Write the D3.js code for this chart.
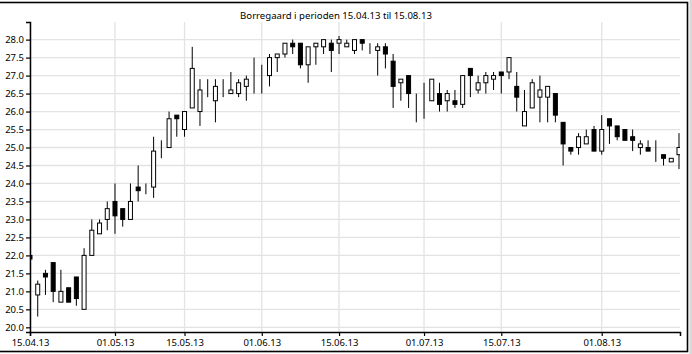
<!DOCTYPE html>
<html>
<head>
<meta charset="utf-8">
<script src="https://cdn.jsdelivr.net/npm/d3@7"></script>
<style>
  html, body { margin: 0; padding: 0; background: #fff; }
  svg { display: block; font-family: "Noto Sans", "Open Sans", sans-serif; }
</style>
</head>
<body>
<svg id="chart" width="692" height="354"></svg>
<script>
// ---- Data (Oslo Børs trading days, 15.04.13 – 15.08.13) ----
const dates = [
  "2013-04-15","2013-04-16","2013-04-17","2013-04-18","2013-04-19","2013-04-22","2013-04-23","2013-04-24","2013-04-25","2013-04-26",
  "2013-04-29","2013-04-30","2013-05-02","2013-05-03","2013-05-06","2013-05-07","2013-05-08","2013-05-10","2013-05-13","2013-05-14",
  "2013-05-15","2013-05-16","2013-05-21","2013-05-22","2013-05-23","2013-05-24","2013-05-27","2013-05-28","2013-05-29","2013-05-30",
  "2013-05-31","2013-06-03","2013-06-04","2013-06-05","2013-06-06","2013-06-07","2013-06-10","2013-06-11","2013-06-12","2013-06-13",
  "2013-06-14","2013-06-17","2013-06-18","2013-06-19","2013-06-20","2013-06-21","2013-06-24","2013-06-25","2013-06-26","2013-06-27",
  "2013-06-28","2013-07-01","2013-07-02","2013-07-03","2013-07-04","2013-07-05","2013-07-08","2013-07-09","2013-07-10","2013-07-11",
  "2013-07-12","2013-07-15","2013-07-16","2013-07-17","2013-07-18","2013-07-19","2013-07-22","2013-07-23","2013-07-24","2013-07-25",
  "2013-07-26","2013-07-29","2013-07-30","2013-07-31","2013-08-01","2013-08-02","2013-08-05","2013-08-06","2013-08-07","2013-08-08",
  "2013-08-09","2013-08-12","2013-08-13","2013-08-14","2013-08-15"
];
const open = [
  22.0,20.9,21.5,21.8,20.7,21.1,21.4,20.5,22.0,22.6,
  23.0,23.5,23.3,23.0,23.9,23.9,23.9,25.0,25.0,25.9,
  25.5,26.1,26.0,26.5,26.3,26.9,26.5,26.5,26.7,27.0,
  26.9,27.0,27.5,27.6,27.9,27.9,27.3,27.8,27.8,27.9,
  27.9,27.8,27.7,28.0,27.9,27.7,27.8,27.4,26.8,27.0,
  26.5,26.8,26.3,26.5,26.3,26.3,26.2,27.2,26.6,26.8,
  26.9,27.1,27.1,26.7,25.6,26.1,26.4,26.4,26.5,25.7,
  25.0,25.0,25.1,25.5,24.9,25.8,25.6,25.5,25.3,25.0,
  25.0,24.8,24.8,24.6,24.8
];
const high = [
  22.0,21.3,21.6,21.8,21.6,21.1,21.4,22.2,23.0,23.0,
  23.5,24.0,23.3,24.0,24.5,24.0,25.3,25.2,26.0,25.9,
  26.0,27.8,26.9,26.9,26.9,26.9,27.1,26.9,27.0,27.5,
  27.3,27.6,27.6,27.9,28.0,27.9,27.8,27.9,28.0,28.0,
  28.1,28.0,28.0,28.0,27.9,27.9,27.9,27.6,26.9,27.0,
  26.5,26.8,26.9,26.8,26.6,26.6,27.0,27.2,27.0,27.1,
  27.1,27.1,27.5,27.1,26.6,26.9,27.0,26.7,26.5,25.7,
  25.0,25.4,25.5,25.6,25.9,25.8,25.6,25.5,25.5,25.2,
  25.2,25.2,24.8,24.7,25.4
];
const low = [
  21.9,20.3,20.9,20.7,20.7,20.7,20.6,20.5,22.0,22.6,
  22.7,22.6,22.8,23.0,23.5,23.7,23.6,24.7,25.0,25.3,
  25.3,26.1,25.6,26.4,25.7,26.4,26.5,26.4,26.3,26.5,
  26.5,26.7,27.1,27.5,27.6,27.2,26.8,27.3,27.6,27.1,
  27.6,27.8,27.6,27.7,27.6,27.0,27.2,26.1,26.3,26.1,
  25.7,25.8,26.3,26.0,26.0,26.1,26.1,26.4,26.5,26.5,
  26.6,26.5,26.9,26.0,25.6,26.1,25.7,25.7,25.7,24.5,
  24.8,24.8,25.1,24.9,24.8,25.1,25.2,25.2,24.9,24.8,
  24.9,24.6,24.5,24.6,24.4
];
const close = [
  21.9,21.2,21.4,21.0,21.0,20.7,20.8,22.0,22.7,22.9,
  23.3,23.1,23.0,23.5,23.8,23.9,24.9,25.0,25.8,25.8,
  26.0,27.2,26.6,26.5,26.7,26.9,26.6,26.8,26.9,27.0,
  26.9,27.5,27.6,27.9,27.8,27.3,27.8,27.9,28.0,27.7,
  28.0,27.9,28.0,27.9,27.9,27.8,27.6,26.7,26.9,26.5,
  26.5,26.8,26.9,26.2,26.5,26.2,27.0,27.0,26.8,27.0,
  27.0,27.0,27.5,26.4,26.0,26.8,26.6,26.7,25.9,25.1,
  24.9,25.3,25.3,24.9,25.5,25.6,25.3,25.2,25.2,25.1,
  24.9,24.8,24.7,24.7,25.0
];
const xTickDates = ["2013-04-15","2013-05-01","2013-05-15","2013-06-01","2013-06-15","2013-07-01","2013-07-15","2013-08-01"];
const xTickLabels = ["15.04.13","01.05.13","15.05.13","01.06.13","15.06.13","01.07.13","15.07.13","01.08.13"];
const yTicks = [20.0,20.5,21.0,21.5,22.0,22.5,23.0,23.5,24.0,24.5,25.0,25.5,26.0,26.5,27.0,27.5,28.0];
const title = "Borregaard i perioden 15.04.13 til 15.08.13";

// ---- Layout ----
const W = 692, H = 354;
const plot = { left: 30, right: 680, top: 22, bottom: 332 };

const svg = d3.select("#chart");
svg.append("rect").attr("width", W).attr("height", H).attr("fill", "#fff");

const candles = dates.map((d, i) => ({ i, date: d, o: open[i], h: high[i], l: low[i], c: close[i] }));

const x = d3.scaleLinear().domain([0, 84.13]).range([plot.left, plot.right]);
const y = d3.scaleLinear().domain([19.87, 28.49]).range([plot.bottom, plot.top]);

// tick index = last trading day on or before each tick date
const tickIdx = xTickDates.map(td => {
  let k = 0;
  dates.forEach((d, i) => { if (d <= td) k = i; });
  return k;
});
const labelOf = new Map(tickIdx.map((k, j) => [k, xTickLabels[j]]));

// grid
const grid = svg.append("g").attr("stroke", "#e3e3e3").attr("stroke-width", 1.3);
grid.selectAll("line.h").data(yTicks).join("line").attr("class", "h")
  .attr("x1", plot.left).attr("x2", plot.right)
  .attr("y1", d => y(d)).attr("y2", d => y(d));
grid.selectAll("line.v").data(tickIdx).join("line").attr("class", "v")
  .attr("y1", plot.top).attr("y2", plot.bottom)
  .attr("x1", d => x(d)).attr("x2", d => x(d));

// candles
svg.append("clipPath").attr("id", "clip").append("rect")
  .attr("x", plot.left).attr("y", plot.top)
  .attr("width", plot.right - plot.left).attr("height", plot.bottom - plot.top);
const cg = svg.append("g").attr("clip-path", "url(#clip)");
const bw = 4;
const g = cg.selectAll("g.candle").data(candles).join("g").attr("class", "candle");
g.append("line")
  .attr("x1", d => x(d.i)).attr("x2", d => x(d.i))
  .attr("y1", d => y(d.h)).attr("y2", d => y(d.l))
  .attr("stroke", "#000").attr("stroke-width", 1);
g.append("rect")
  .attr("x", d => x(d.i) - bw / 2).attr("width", bw)
  .attr("y", d => y(Math.max(d.o, d.c)))
  .attr("height", d => Math.abs(y(d.o) - y(d.c)))
  .attr("fill", d => d.c < d.o ? "#000" : "#fff")
  .attr("stroke", "#000").attr("stroke-width", 1);

// axes
const yAxis = d3.axisLeft(y).tickValues(yTicks).tickFormat(d3.format(".1f")).tickSizeOuter(0).tickSize(4).tickPadding(2);
const xAxis = d3.axisBottom(x).tickValues(tickIdx).tickFormat(k => labelOf.get(k)).tickSizeOuter(0).tickSize(4).tickPadding(3);

const ya = svg.append("g").attr("transform", `translate(${plot.left},0)`).call(yAxis);
const xa = svg.append("g").attr("transform", `translate(0,${plot.bottom})`).call(xAxis);
[ya, xa].forEach(a => {
  a.select(".domain").attr("stroke", "#000").attr("stroke-width", 1.5);
  a.selectAll(".tick line").attr("stroke", "#000").attr("stroke-width", 1.2);
  a.selectAll(".tick text").attr("fill", "#000").attr("font-size", 9.5).attr("font-family", '"Noto Sans", sans-serif');
});

// title
svg.append("text").attr("x", 336).attr("y", 18.5).attr("text-anchor", "middle")
  .attr("font-size", 9.6).attr("fill", "#000").text(title);

// outer frame
svg.append("rect").attr("x", 689.5).attr("y", 0).attr("width", 2.5).attr("height", H).attr("fill", "#d8d8d8");
svg.append("rect").attr("x", -5).attr("y", 2.5).attr("width", 692.5).attr("height", 349)
  .attr("fill", "none").attr("stroke", "#000").attr("stroke-width", 1.6);
</script>
</body>
</html>
